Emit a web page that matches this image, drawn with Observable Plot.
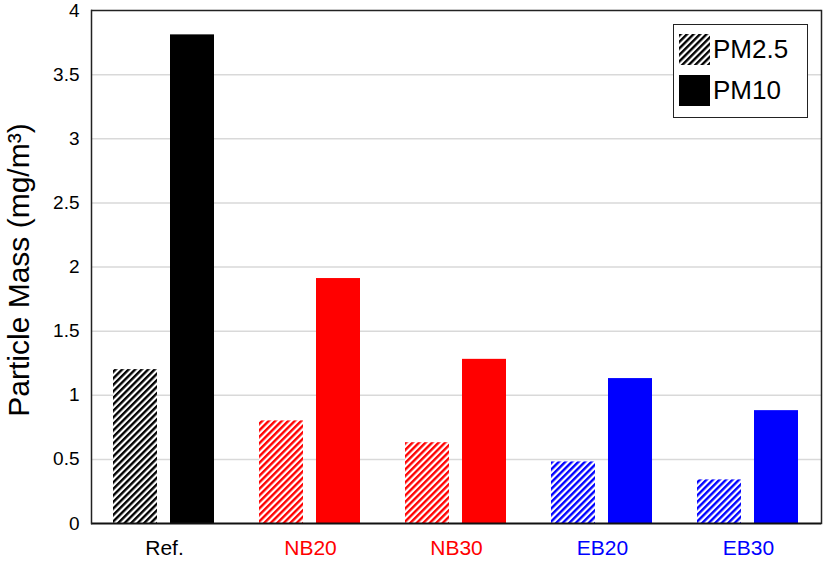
<!DOCTYPE html>
<html>
<head>
<meta charset="utf-8">
<script src="https://cdn.jsdelivr.net/npm/d3@7"></script>
<script src="https://cdn.jsdelivr.net/npm/@observablehq/plot@0.6"></script>
<style>
  body { margin: 0; background: #fff; font-family: "Liberation Sans", Arial, sans-serif; }
  #wrap { position: relative; width: 827px; height: 575px; }
  #ylabel { position: absolute; left: 19px; top: 270px; transform: translate(-50%, -50%) rotate(-90deg);
            white-space: nowrap; font-size: 30px; color: #000; }
  #legend { position: absolute; left: 673px; top: 24px; width: 135px; height: 94px; border: 1.5px solid #222;
            background: #fff; box-sizing: border-box; }
  .item { position: absolute; left: 5px; display: flex; align-items: center; font-size: 26px; color: #000; }
  .item svg { margin-right: 3px; }
</style>
</head>
<body>
<div id="wrap">
  <div id="chart"></div>
  <div id="ylabel">Particle Mass (mg/m³)</div>
  <div id="legend"></div>
</div>
<script>
const categories = ["Ref.", "NB20", "NB30", "EB20", "EB30"];
const seriesNames = ["PM2.5", "PM10"];
const pm25 = [1.20, 0.80, 0.63, 0.48, 0.34];
const pm10 = [3.81, 1.91, 1.28, 1.13, 0.88];
const catColors = ["#000000", "#ff0000", "#ff0000", "#0000ff", "#0000ff"];
const yTicks = [0, 0.5, 1, 1.5, 2, 2.5, 3, 3.5, 4];

const data = [];
categories.forEach((c, i) => {
  data.push({cat: c, series: "PM2.5", value: pm25[i], fill: `url(#hatch-${i})`});
  data.push({cat: c, series: "PM10", value: pm10[i], fill: catColors[i]});
});

const chart = Plot.plot({
  width: 827,
  height: 575,
  marginLeft: 89,
  marginRight: 5,
  marginTop: 10,
  marginBottom: 52,
  style: {fontFamily: "'Liberation Sans', Arial, sans-serif", fontSize: "19px", background: "#fff", color: "#000"},
  fx: {domain: categories, padding: 0},
  x: {domain: seriesNames, paddingInner: 0.224, paddingOuter: 0.376, axis: null},
  y: {domain: [0, 4]},
  color: {type: "identity"},
  marks: [
    Plot.gridY(yTicks.filter(t => t > 0 && t < 4), {stroke: "#d9d9d9", strokeOpacity: 1, strokeWidth: 1.5}),
    Plot.barY(data, {fx: "cat", x: "series", y: "value", fill: "fill"}),
    Plot.ruleY([4], {stroke: "#222", strokeWidth: 1.5}),
    Plot.ruleY([0], {stroke: "#111", strokeWidth: 2}),
    Plot.frame({anchor: "left", facetAnchor: "left", stroke: "#222", strokeWidth: 1.5}),
    Plot.frame({anchor: "right", facetAnchor: "right", stroke: "#222", strokeWidth: 1.5}),
    Plot.axisY(yTicks, {anchor: "left", tickSize: 0, tickPadding: 12, label: null,
      fontSize: 19, tickFormat: d => String(d)}),
    Plot.axisFx({anchor: "bottom", tickSize: 0, tickPadding: 17, fontSize: 21, label: null,
      fill: d => catColors[categories.indexOf(d)]})
  ]
});

const ns = "http://www.w3.org/2000/svg";
function patternDefs(prefix) {
  return catColors.map((col, i) =>
    `<pattern id="${prefix}-${i}" width="4.6" height="4.6" patternUnits="userSpaceOnUse" patternTransform="rotate(45)">
       <rect width="4.6" height="4.6" fill="#fff"/><rect width="2.4" height="4.6" fill="${col}"/></pattern>`).join("");
}
const defs = document.createElementNS(ns, "defs");
defs.innerHTML = patternDefs("hatch");
chart.insertBefore(defs, chart.firstChild);
document.getElementById("chart").appendChild(chart);

// legend
const legend = document.getElementById("legend");
[["PM2.5", "url(#hatch-0)", 9], ["PM10", "#000", 50]].forEach(([name, fill, top]) => {
  const item = document.createElement("div");
  item.className = "item";
  item.style.top = top + "px";
  item.innerHTML = `<svg width="31" height="31"><rect width="31" height="31" fill="${fill}"/></svg><span>${name}</span>`;
  legend.appendChild(item);
});
</script>
</body>
</html>
